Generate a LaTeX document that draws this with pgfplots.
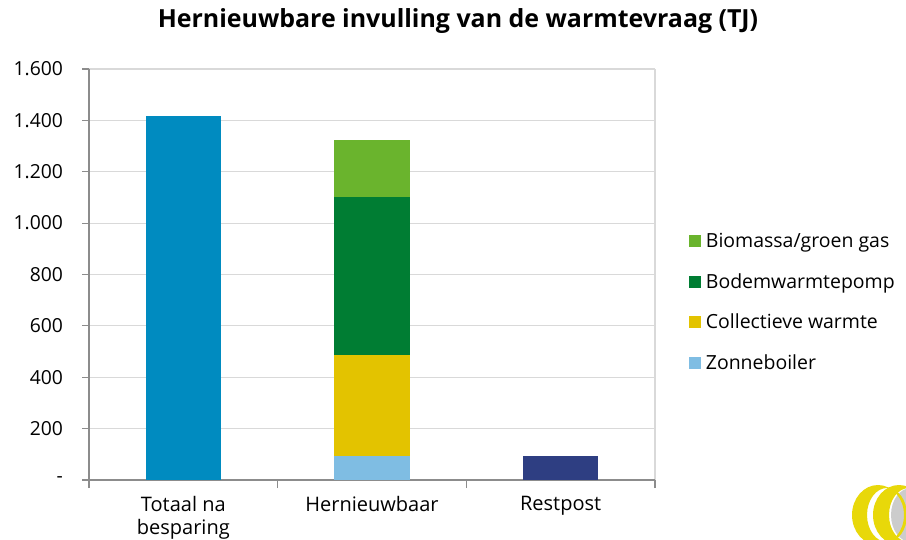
\documentclass[border=0pt]{standalone}
\usepackage{pgfplots}
\pgfplotsset{compat=1.18}
\usepackage{fontspec}
\setmainfont{Open Sans}
\definecolor{ctot}{HTML}{008BC0}
\definecolor{czon}{HTML}{7FBDE3}
\definecolor{ccol}{HTML}{E3C300}
\definecolor{cbod}{HTML}{007D33}
\definecolor{cbio}{HTML}{6AB42D}
\definecolor{crest}{HTML}{2E3E82}
\definecolor{cgrid}{HTML}{D9D9D9}
\definecolor{caxis}{HTML}{8C8C8C}
\definecolor{clogo}{HTML}{E8D80A}
\begin{document}
\begin{tikzpicture}[x=0.75pt,y=0.75pt]
\path[use as bounding box] (0,0) rectangle (906,539);
\begin{scope}
\clip (0,0) rectangle (906,539);
\fill[gray!40] (911,24) ellipse [x radius=20, y radius=27];
\fill[clogo, even odd rule] (878,24) ellipse [x radius=26, y radius=30] (887,24) ellipse [x radius=20, y radius=27];
\fill[clogo, even odd rule] (899,24) ellipse [x radius=26, y radius=30] (909,24) ellipse [x radius=20, y radius=27];
\end{scope}
\node[font=\fontsize{18.7}{20}\selectfont\bfseries] at (458,518) {Hernieuwbare invulling van de warmtevraag (TJ)};
\begin{axis}[
  at={(89*0.75pt,59*0.75pt)}, anchor=south west,
  scale only axis, width=566*0.75pt, height=411*0.75pt,
  ybar stacked, bar width=0.4,
  xmin=-0.5, xmax=2.5, ymin=0, ymax=1600,
  xtick={0,1,2},
  xticklabels={{Totaal na\\besparing},Hernieuwbaar,Restpost},
  xticklabel style={align=center, font=\fontsize{15}{17}\selectfont, yshift=-4pt},
  major x tick style={draw=none},
  minor xtick={-0.5,0.5,1.5,2.5},
  minor tick length=6pt,
  minor x tick style={draw=caxis, line width=0.8pt},
  ytick={0,200,...,1600},
  yticklabels={-,200,400,600,800,{1.000},{1.200},{1.400},{1.600}},
  yticklabel style={font=\fontsize{14.5}{16}\selectfont, xshift=-11pt},
  major tick length=5pt,
  tick align=outside,
  major y tick style={draw=caxis, line width=0.8pt},
  ymajorgrids, grid style={draw=cgrid, line width=0.8pt},
  axis line style={draw=none},
  axis x line*=bottom, axis y line*=left,
  legend style={at={(1.06,0.25)}, anchor=south west, draw=none, fill=none,
    font=\fontsize{14.6}{16}\selectfont, row sep=14pt,
    inner xsep=0pt,
    legend cell align=left,
    /tikz/every odd column/.append style={column sep=1.5pt}},
  legend image code/.code={\fill[#1] (0pt,-4.5pt) rectangle (9pt,4.5pt);},
  reverse legend,
  clip=false,
]
\addplot[fill=ctot, draw=none, forget plot] coordinates {(0,1416) (1,0) (2,0)};
\addplot[fill=czon, draw=none] coordinates {(0,0) (1,95) (2,0)};
\addplot[fill=ccol, draw=none] coordinates {(0,0) (1,393) (2,0)};
\addplot[fill=cbod, draw=none] coordinates {(0,0) (1,615) (2,0)};
\addplot[fill=cbio, draw=none] coordinates {(0,0) (1,222) (2,0)};
\addplot[fill=crest, draw=none, forget plot] coordinates {(0,0) (1,0) (2,95)};
\legend{Zonneboiler,Collectieve warmte,Bodemwarmtepomp,Biomassa/groen gas}
\draw[caxis, line width=0.8pt] (rel axis cs:0,0) -- (rel axis cs:0,1);
\draw[caxis, line width=0.8pt] (rel axis cs:0,0) -- (rel axis cs:1,0);
\draw[cgrid, line width=0.8pt] (rel axis cs:1,0) -- (rel axis cs:1,1);
\end{axis}
\end{tikzpicture}
\end{document}
